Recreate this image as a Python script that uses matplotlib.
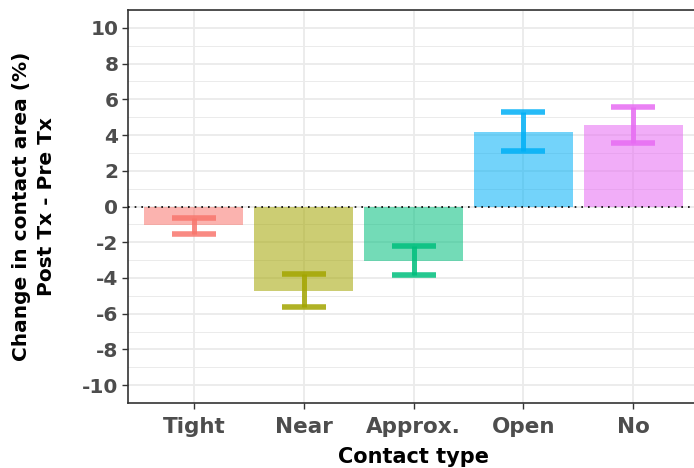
import matplotlib
matplotlib.use("Agg")
from matplotlib import pyplot as plt
from matplotlib.ticker import MultipleLocator

plt.rcParams['font.family'] = ['DejaVu Sans']
plt.rcParams['axes.unicode_minus'] = False

contact = ["Tight", "Near", "Approx.", "Open", "No"]
change = [-1.06, -4.73, -3.05, 4.15, 4.55]
err_low = [-1.56, -5.64, -3.85, 3.13, 3.56]
err_high = [-0.67, -3.80, -2.23, 5.27, 5.57]
colors = ["#F8766D", "#A3A500", "#00BF7D", "#00B0F6", "#E76BF3"]

fig = plt.figure(figsize=(6.94, 4.68), dpi=100)
ax = fig.add_axes([128 / 694, 65 / 468, 571 / 694, 393 / 468])

x = list(range(1, len(contact) + 1))
ax.bar(x, change, width=0.9, color=colors, alpha=0.55, zorder=2)
for i in range(len(x)):
    ax.errorbar(x[i], change[i],
                yerr=[[change[i] - err_low[i]], [err_high[i] - change[i]]],
                fmt="none", ecolor=colors[i], elinewidth=3.6,
                capsize=16, capthick=4, alpha=0.85, zorder=3)

ax.axhline(0, color="black", linestyle=(0, (1, 3)), linewidth=1.2, zorder=4)

ax.set_xlim(0.4, 5.6)
ax.set_ylim(-11, 11)
ax.set_xticks(x)
ax.set_xticklabels(contact)
ax.yaxis.set_major_locator(MultipleLocator(2))
ax.yaxis.set_minor_locator(MultipleLocator(1))
ax.grid(which="major", color="#EBEBEB", linewidth=1.3, zorder=0)
ax.grid(which="minor", axis="y", color="#EBEBEB", linewidth=0.7, zorder=0)
ax.set_axisbelow(True)
ax.tick_params(which="minor", length=0)
ax.tick_params(which="major", length=4, width=1, color="#333333",
               labelcolor="#4D4D4D", pad=3)
ax.tick_params(axis="y", labelsize=14.5)
ax.tick_params(axis="x", labelsize=15.5, pad=6)
for lab in ax.get_xticklabels() + ax.get_yticklabels():
    lab.set_fontweight("bold")
for s in ax.spines.values():
    s.set_color("#333333")
    s.set_linewidth(1.2)
ax.spines["right"].set_visible(False)

ax.set_xlabel("Contact type", fontsize=15, fontweight="bold", labelpad=7)
ax.set_ylabel("Change in contact area (%)\nPost Tx - Pre Tx", fontsize=14.5,
              fontweight="bold", labelpad=19, linespacing=1.35)

fig.savefig("out.png", dpi=100)
